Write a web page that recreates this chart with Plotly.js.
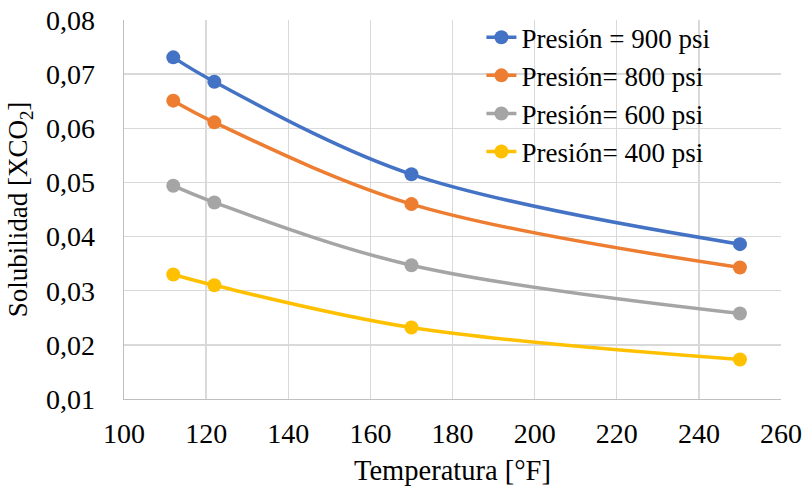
<!DOCTYPE html>
<html>
<head>
<meta charset="utf-8">
<script src="https://cdn.plot.ly/plotly-3.0.1.min.js"></script>
<style>html,body{margin:0;padding:0;background:#fff;}#chart{width:804px;height:490px;}</style>
</head>
<body>
<div id="chart"></div>
<script>
const temperatures = [112, 122, 170, 250];
const seriesNames = ["Presión = 900 psi", "Presión= 800 psi", "Presión= 600 psi", "Presión= 400 psi"];
const p900 = [0.0731, 0.0686, 0.0515, 0.0386];
const p800 = [0.0651, 0.0611, 0.0460, 0.0343];
const p600 = [0.0494, 0.0463, 0.0347, 0.0258];
const p400 = [0.0330, 0.0310, 0.0232, 0.0173];
const colors = ["#4472C4", "#ED7D31", "#A5A5A5", "#FFC000"];
const allSeries = [p900, p800, p600, p400];

const fam = "Liberation Serif";
const f = (s) => ({family: fam, size: s, color: "#000"});
const traces = allSeries.map((vals, i) => ({
  x: temperatures, y: vals, name: seriesNames[i],
  type: "scatter", mode: "lines+markers",
  line: {color: colors[i], width: 3.5, shape: "spline", smoothing: 1},
  marker: {color: colors[i], size: 14}
}));

const layout = {
  width: 804, height: 490,
  margin: {l: 124, r: 23, t: 20, b: 91},
  paper_bgcolor: "#fff", plot_bgcolor: "#fff",
  separators: ",.",
  font: f(28),
  showlegend: true,
  legend: {x: 0.544, y: 1.018, xanchor: "left", yanchor: "top", bgcolor: "rgba(0,0,0,0)",
           font: f(27), tracegroupgap: 0, itemwidth: 30},
  xaxis: {range: [100, 260], dtick: 20, tick0: 100, showgrid: true, gridcolor: "#D9D9D9", gridwidth: 1.3,
          showline: true, linecolor: "#BFBFBF", linewidth: 1.3, zeroline: false, ticks: "",
          tickfont: f(28), ticklabelstandoff: 9,
          title: {text: "Temperatura [°F]", font: f(28.5), standoff: 12}},
  yaxis: {range: [0.01, 0.08], dtick: 0.01, tick0: 0.01, tickformat: ".2f", showgrid: true, gridcolor: "#D9D9D9", gridwidth: 1.3,
          showline: true, linecolor: "#BFBFBF", linewidth: 1.3, zeroline: false, ticks: "",
          tickfont: f(28), ticklabelstandoff: 22,
          title: {text: "Solubilidad [XCO<sub>2</sub>]", font: f(27), standoff: 10}},
  shapes: [{type: "rect", layer: "between", xref: "paper", yref: "paper", x0: 0.436, x1: 1, y0: 0.61, y1: 1.0,
            fillcolor: "#fff", line: {width: 0}}]
};
Plotly.newPlot("chart", traces, layout, {displayModeBar: false, staticPlot: true});
</script>
</body>
</html>
